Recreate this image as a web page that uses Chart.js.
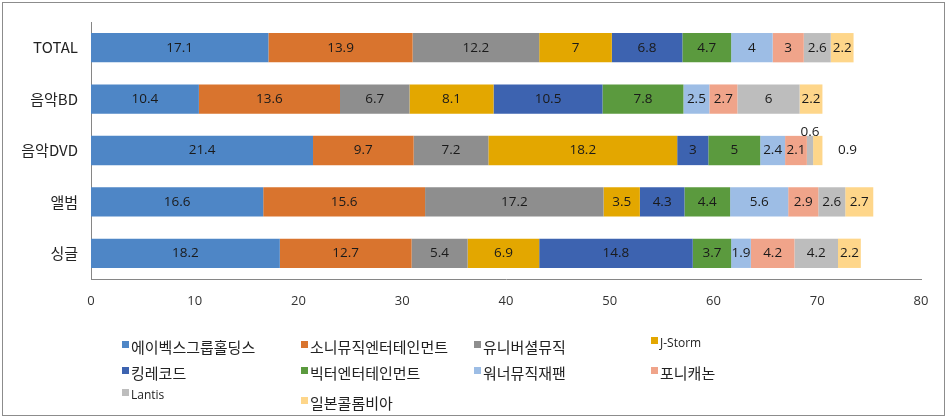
<!DOCTYPE html>
<html>
<head>
<meta charset="utf-8">
<script src="https://cdn.jsdelivr.net/npm/chart.js@4/dist/chart.umd.min.js"></script>
<style>
  body { margin: 0; background: #fff; }
  #frame { position: absolute; left: 2px; top: 2px; width: 941px; height: 412px; border: 1px solid #8c8c8c; }
  #wrap { position: absolute; left: 0; top: 0; width: 947px; height: 320px; }
  #legend { position: absolute; left: 0; top: 0; width: 947px; height: 418px; pointer-events: none;
    font-family: "Noto Sans CJK KR", "Open Sans", sans-serif; color: #222; }
  .item { position: absolute; white-space: nowrap; font-size: 15px; line-height: 18px; }
  .item.latin { font-family: "Open Sans", sans-serif; font-size: 12px; }
  .box { position: absolute; left: -9px; top: 3px; width: 7px; height: 7px; }
</style>
</head>
<body>
<div id="frame"></div>
<div id="wrap"><canvas id="chart"></canvas></div>
<div id="legend"></div>
<script>
// 카테고리 (위에서 아래로)
const categories = ["TOTAL", "음악BD", "음악DVD", "앨범", "싱글"];

// 회사별 점유율 (%)
const avex      = [17.1, 10.4, 21.4, 16.6, 18.2];
const sony      = [13.9, 13.6, 9.7, 15.6, 12.7];
const universal = [12.2, 6.7, 7.2, 17.2, 5.4];
const jstorm    = [7, 8.1, 18.2, 3.5, 6.9];
const king      = [6.8, 10.5, 3, 4.3, 14.8];
const victor    = [4.7, 7.8, 5, 4.4, 3.7];
const warner    = [4, 2.5, 2.4, 5.6, 1.9];
const pony      = [3, 2.7, 2.1, 2.9, 4.2];
const lantis    = [2.6, 6, 0.6, 2.6, 4.2];
const columbia  = [2.2, 2.2, 0.9, 2.7, 2.2];

const seriesNames = ["에이벡스그룹홀딩스", "소니뮤직엔터테인먼트", "유니버셜뮤직", "J-Storm",
  "킹레코드", "빅터엔터테인먼트", "워너뮤직재팬", "포니캐논", "Lantis", "일본콜롬비아"];
const seriesData = [avex, sony, universal, jstorm, king, victor, warner, pony, lantis, columbia];
const colors = ["#4E86C6", "#D9742E", "#8E8E8E", "#E3A700", "#3D63B0",
  "#5B9A3E", "#9DBDE5", "#F0A48A", "#BDBDBD", "#FED68A"];

const xTicks = [0, 10, 20, 30, 40, 50, 60, 70, 80];

// 막대 위 값 표시
const labelPlugin = {
  id: "barLabels",
  afterDatasetsDraw(chart) {
    const ctx = chart.ctx;
    ctx.save();
    ctx.font = "13.5px 'Open Sans', sans-serif";
    ctx.fillStyle = "#1a1a1a";
    ctx.textAlign = "center";
    ctx.textBaseline = "middle";
    const last = chart.data.datasets.length - 1;
    chart.data.datasets.forEach((ds, di) => {
      chart.getDatasetMeta(di).data.forEach((bar, i) => {
        const v = ds.data[i];
        let x = (bar.x + bar.base) / 2, y = bar.y;
        if (v < 1) {
          if (di === last) { x = bar.x + 25; }
          else { y = bar.y - bar.height / 2 - 4; }
        }
        ctx.fillText(String(v), x, y);
      });
    });
    ctx.restore();
  }
};

new Chart(document.getElementById("chart"), {
  type: "bar",
  data: {
    labels: categories,
    datasets: seriesData.map((d, i) => ({
      label: seriesNames[i],
      data: d,
      backgroundColor: colors[i],
      borderWidth: 0,
      barPercentage: 0.57,
      categoryPercentage: 1
    }))
  },
  options: {
    indexAxis: "y",
    responsive: true,
    maintainAspectRatio: false,
    animation: false,
    layout: { padding: { left: 0, right: 26, top: 14, bottom: 0 } },
    plugins: { legend: { display: false }, tooltip: { enabled: false } },
    scales: {
      x: {
        stacked: true,
        min: 0, max: 80,
        afterBuildTicks(scale) { scale.ticks = xTicks.map(v => ({ value: v })); },
        afterFit(scale) { scale.height = 41; },
        grid: { display: false, drawTicks: false },
        border: { display: true, color: "#868686", width: 1 },
        ticks: { padding: 14, color: "#333", font: { family: "'Open Sans', sans-serif", size: 13 } }
      },
      y: {
        stacked: true,
        afterFit(scale) { scale.width = 91; },
        grid: { display: false, drawTicks: false },
        border: { display: true, color: "#868686", width: 1 },
        ticks: { padding: 13, color: "#222", font: { family: "'Noto Sans CJK KR', 'Open Sans', sans-serif", size: 15 } }
      }
    }
  },
  plugins: [labelPlugin]
});

// 범례 (4열 배치)
const legend = document.getElementById("legend");
const colX = [131, 310, 483, 660];
const rowY = [338, 364, 390];
seriesNames.forEach((name, i) => {
  const latin = /^[A-Za-z]/.test(name);
  const el = document.createElement("div");
  el.className = "item" + (latin ? " latin" : "");
  el.style.left = colX[i % 4] + "px";
  el.style.top = (rowY[Math.floor(i / 4)] + (latin ? -4 : 0) + (i === 9 ? 4 : 0)) + "px";
  el.innerHTML = '<span class="box" style="background:' + colors[i] + '"></span>';
  el.appendChild(document.createTextNode(name));
  legend.appendChild(el);
});
</script>
</body>
</html>
